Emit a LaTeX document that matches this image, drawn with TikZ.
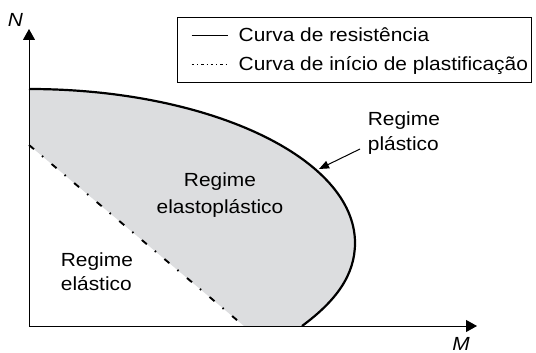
\documentclass[tikz,border=0pt]{standalone}
\usepackage{fontspec}
\setmainfont{Liberation Sans}[FakeStretch=1.1]
\usetikzlibrary{arrows.meta}
\definecolor{regionfill}{RGB}{220,221,223}
\tikzset{
  lbl/.style={font=\fontsize{19}{22}\selectfont, inner sep=0pt},
  axislbl/.style={font=\fontsize{19}{22}\selectfont\itshape, inner sep=0pt},
  axisline/.style={line width=1pt, -{Triangle[length=11pt,width=12pt]}},
  rescurve/.style={line width=2.2pt},
  plastcurve/.style={line width=1.9pt, dash pattern=on 6.5pt off 10.5pt on 1.5pt off 11pt},
  legsolid/.style={line width=1.2pt},
  legdash/.style={line width=1pt, dash pattern=on 2.5pt off 3pt on 1pt off 3pt},
  pointer/.style={line width=1pt, -{Triangle[length=10pt,width=8pt]}}
}
\begin{document}
\begin{tikzpicture}[x=1pt,y=-1pt]
\path[use as bounding box] (0,0) rectangle (536,353);
% key points
\coordinate (O) at (29,326);
\coordinate (ytip) at (29,29);
\coordinate (xtip) at (477,326);
\coordinate (Ntop) at (29,89);
\coordinate (Nel) at (29,145);
\coordinate (Mel) at (244,326);
\coordinate (Mpl) at (302,326);
\coordinate (R) at (355,243);
% shaded region
\fill[regionfill] (Ntop) .. controls (209,89) and (355,158) .. (R)
  .. controls (355,275) and (336,301) .. (Mpl) -- (Mel) -- (Nel) -- cycle;
% elastic limit
\draw[plastcurve] (Nel) -- (Mel);
% resistance curve
\draw[rescurve] (Ntop) .. controls (209,89) and (355,158) .. (R)
  .. controls (355,275) and (336,301) .. (Mpl);
% axes
\draw[axisline] (O) -- (ytip);
\draw[axisline] (O) -- (xtip);
\node[axislbl] (Nlbl) at (15.5,20) {N};
\node[axislbl] (Mlbl) at (461,343.5) {M};
% legend
\draw[line width=0.9pt] (177.3,17.3) rectangle (531.5,82.3);
\coordinate (l1a) at (191.7,35.5);
\coordinate (l1b) at (228.3,35.5);
\coordinate (l2a) at (191.7,65);
\coordinate (l2b) at (228.3,65);
\draw[legsolid] (l1a) -- (l1b);
\draw[legdash] (l2a) -- (l2b);
\node[lbl, anchor=base west] (lg1) at (238.5,41.5) {Curva de resistência};
\node[lbl, anchor=base west] (lg2) at (238.5,71) {Curva de início de plastificação};
% region labels
\node[lbl, anchor=base west] (pl1) at (367.7,125) {Regime};
\node[lbl, anchor=base west] (pl2) at (367.7,150) {plástico};
\node[lbl, anchor=base] (ep1) at (220,186.7) {Regime};
\node[lbl, anchor=base] (ep2) at (220,213) {elastoplástico};
\node[lbl, anchor=base west] (el1) at (60.7,266.7) {Regime};
\node[lbl, anchor=base west] (el2) at (60.7,290) {elástico};
% pointer
\coordinate (ps) at (360,149);
\coordinate (pe) at (319,169);
\draw[pointer] (ps) -- (pe);
\end{tikzpicture}
\end{document}
